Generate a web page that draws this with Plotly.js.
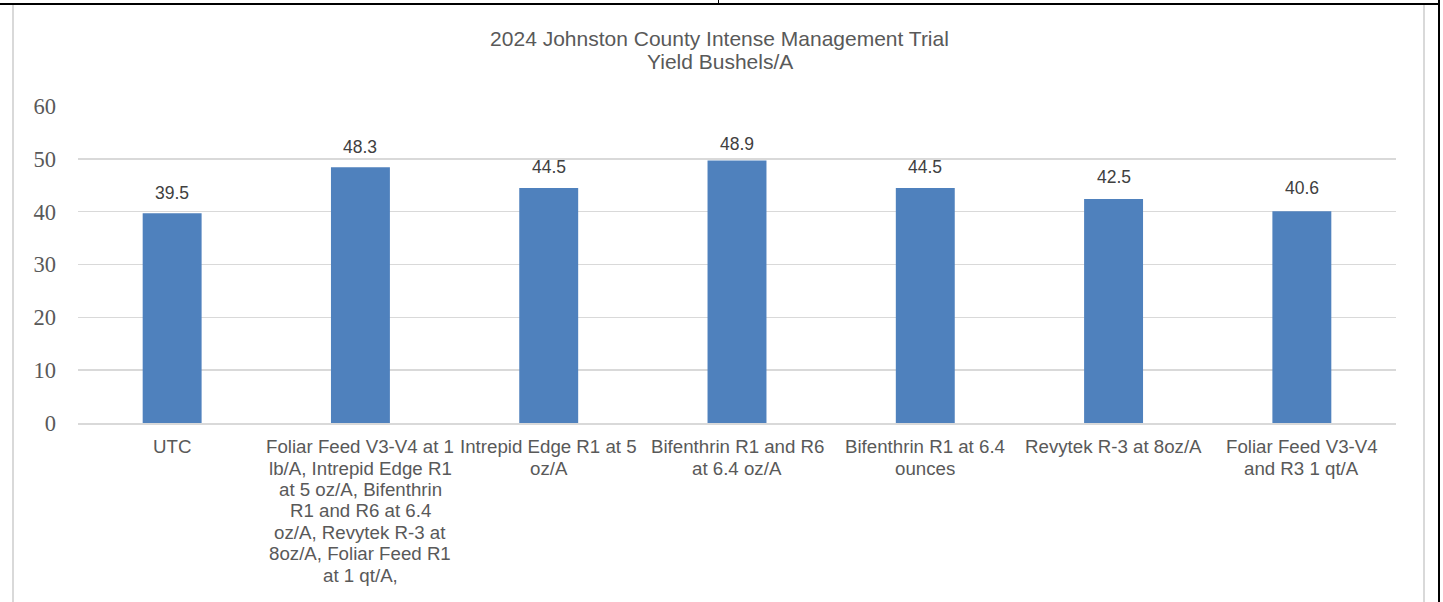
<!DOCTYPE html>
<html>
<head>
<meta charset="utf-8">
<script src="https://cdn.plot.ly/plotly-3.0.1.min.js"></script>
<style>
  html, body { margin: 0; padding: 0; background: #fff; }
  #wrap { position: relative; width: 1443px; height: 602px; overflow: hidden; }
  #chart { position: absolute; left: 0; top: 0; width: 1443px; height: 602px; }
  .ln { position: absolute; pointer-events: none; }
</style>
</head>
<body>
<div id="wrap">
  <div id="chart"></div>
  <div class="ln" style="left:0;top:3px;width:1440px;height:2px;background:#000;"></div>
  <div class="ln" style="left:718px;top:0;width:1px;height:4px;background:#000;"></div>
  <div class="ln" style="left:1438px;top:0;width:2px;height:602px;background:#000;"></div>
  <div class="ln" style="left:12px;top:5px;width:2px;height:597px;background:#d9d9d9;"></div>
  <div class="ln" style="left:1423px;top:5px;width:2px;height:597px;background:#d9d9d9;"></div>
</div>
<script>
const categories = [
  "UTC",
  "Foliar Feed V3-V4 at 1<br>lb/A, Intrepid Edge R1<br>at 5 oz/A, Bifenthrin<br>R1 and R6 at 6.4<br>oz/A, Revytek R-3 at<br>8oz/A, Foliar Feed R1<br>at 1 qt/A,",
  "Intrepid Edge R1 at 5<br>oz/A",
  "Bifenthrin R1 and R6<br>at 6.4 oz/A",
  "Bifenthrin R1 at 6.4<br>ounces",
  "Revytek R-3 at 8oz/A",
  "Foliar Feed V3-V4<br>and R3 1 qt/A"
];
// bar heights as drawn in the picture
const barHeights = [39.7, 48.4, 44.5, 49.7, 44.5, 42.4, 40.1];
// data labels as printed in the picture
const labelValues = [39.5, 48.3, 44.5, 48.9, 44.5, 42.5, 40.6];
const yTicks = [0, 10, 20, 30, 40, 50, 60];
const titleLines = ['2024 Johnston County Intense Management Trial', 'Yield Bushels/A'];

const SANS = 'Liberation Sans, Arial, sans-serif';

const trace = {
  type: 'bar',
  x: categories,
  y: barHeights,
  marker: { color: '#4f81bd' },
  hoverinfo: 'none'
};

const annotations = [];

// data labels
categories.forEach((c, i) => {
  annotations.push({
    x: c, y: labelValues[i], xref: 'x', yref: 'y',
    text: labelValues[i].toFixed(1),
    showarrow: false, yanchor: 'middle', yshift: 21,
    font: { family: SANS, size: 17.5, color: '#404040' }
  });
});

// category labels (one annotation per wrapped line, anchored on the category axis)
categories.forEach((c) => {
  c.split('<br>').forEach((line, j) => {
    annotations.push({
      x: c, y: 0, xref: 'x', yref: 'paper',
      text: line,
      showarrow: false, xanchor: 'center', yanchor: 'middle',
      yshift: -(23.7 + j * 21.4),
      font: { family: SANS, size: 18.7, color: '#595959' }
    });
  });
});

// second title line
annotations.push({
  x: 0.4986, y: 1 - 61.7 / 602, xref: 'paper', yref: 'paper',
  text: titleLines[1], showarrow: false, xanchor: 'center', yanchor: 'middle',
  font: { family: SANS, size: 21, color: '#595959' }
});

const layout = {
  width: 1443,
  height: 602,
  margin: { l: 78, r: 47, t: 106, b: 179, pad: 0 },
  paper_bgcolor: '#ffffff',
  plot_bgcolor: '#ffffff',
  showlegend: false,
  bargap: 0.687,
  title: {
    text: titleLines[0],
    x: 719.5 / 1443,
    xref: 'container',
    xanchor: 'center',
    y: 1 - 38.5 / 602,
    yref: 'container',
    yanchor: 'middle',
    font: { family: SANS, size: 21, color: '#595959' }
  },
  xaxis: {
    type: 'category',
    showgrid: false,
    showline: true,
    linecolor: '#d9d9d9',
    linewidth: 1.5,
    ticks: '',
    showticklabels: false,
    fixedrange: true
  },
  yaxis: {
    range: [0, 60],
    tickvals: yTicks,
    ticktext: yTicks.map(String),
    showgrid: true,
    gridcolor: '#d9d9d9',
    gridwidth: 1.5,
    zeroline: false,
    showline: false,
    ticks: '',
    ticklabelstandoff: 21,
    tickfont: { family: 'Liberation Serif, Times New Roman, serif', size: 22.5, color: '#595959' },
    fixedrange: true
  },
  annotations: annotations
};

Plotly.newPlot('chart', [trace], layout, { displayModeBar: false, staticPlot: true }).then(() => {
  // second title line is positioned in paper space: convert from container fraction
  const fl = document.getElementById('chart')._fullLayout;
  const ph = fl._size.h, pt = fl._size.t;
  const last = annotations.length - 1;
  const yPaper = 1 + (pt - 61.7) / ph;
  const xPaper = (719.5 - fl._size.l) / fl._size.w;
  Plotly.relayout('chart', { ['annotations[' + last + '].y']: yPaper, ['annotations[' + last + '].x']: xPaper });
});
</script>
</body>
</html>
